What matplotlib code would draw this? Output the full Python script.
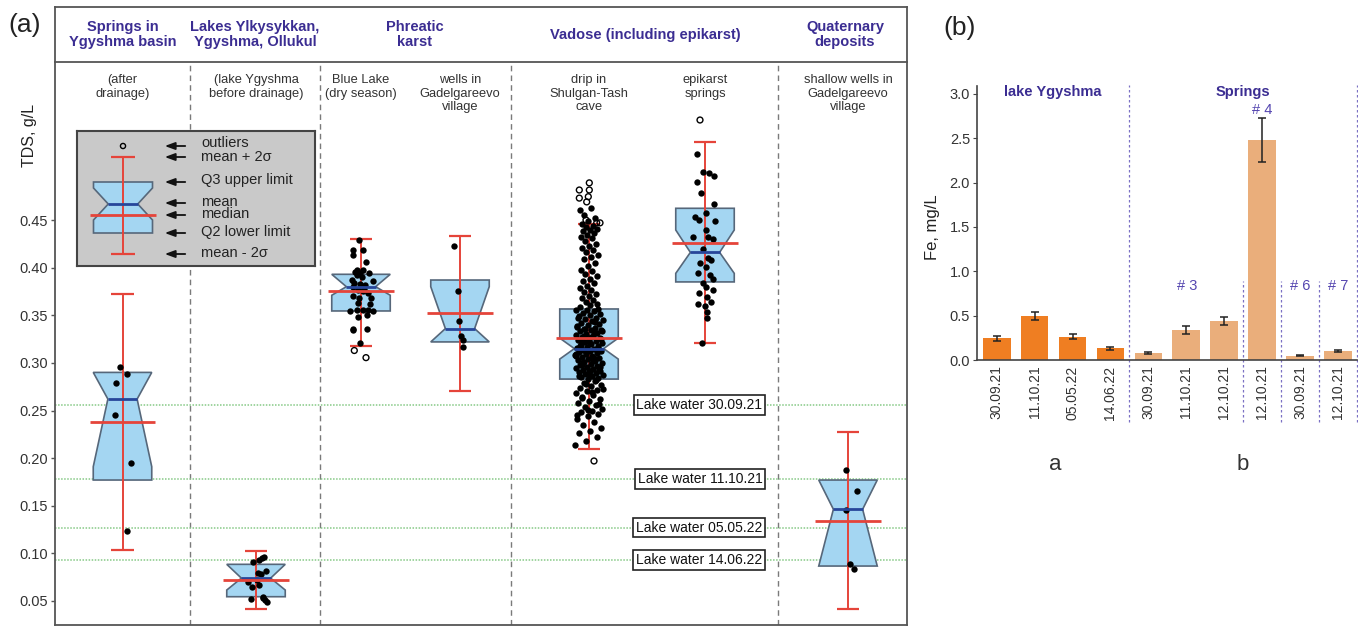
import numpy as np
import matplotlib
matplotlib.use("Agg")
import matplotlib.pyplot as plt
from matplotlib.transforms import blended_transform_factory

plt.rcParams['font.family'] = ['Liberation Sans', 'DejaVu Sans']

# ---------------- Panel (a) data: TDS, g/L ----------------
header_labels = ["Springs in\nYgyshma basin", "Lakes Ylkysykkan,\nYgyshma, Ollukul",
                 "Phreatic\nkarst", "Vadose (including epikarst)", "Quaternary\ndeposits"]
sub_labels = ["(after\ndrainage)", "(lake Ygyshma\nbefore drainage)", "Blue Lake\n(dry season)",
              "wells in\nGadelgareevo\nvillage", "drip in\nShulgan-Tash\ncave",
              "epikarst\nsprings", "shallow wells in\nGadelgareevo\nvillage"]

q1_vals     = [0.177, 0.0545, 0.3545, 0.322, 0.283, 0.385, 0.0867]
q3_vals     = [0.290, 0.0885, 0.393, 0.387, 0.3566, 0.4623, 0.177]
notch_lo    = [0.191, 0.0615, 0.371, 0.322, 0.304, 0.394, 0.0867]
notch_hi    = [0.290, 0.0885, 0.393, 0.380, 0.326, 0.4395, 0.177]
mean_vals   = [0.262, 0.074, 0.380, 0.336, 0.315, 0.416, 0.1463]
median_vals = [0.2376, 0.072, 0.375, 0.352, 0.3264, 0.4255, 0.134]
lo_2sigma   = [0.104, 0.0413, 0.318, 0.271, 0.2096, 0.3205, 0.0413]
hi_2sigma   = [0.372, 0.1028, 0.430, 0.433, 0.4455, 0.5316, 0.227]

springs_pts = [0.296, 0.288, 0.279, 0.245, 0.195, 0.1235]
springs_jit = [-0.025, 0.042, -0.068, -0.075, 0.082, 0.042]

lakes_pts = [0.0913, 0.093, 0.0965, 0.095, 0.0797, 0.0818, 0.0783, 0.065, 0.0668,
             0.0545, 0.0518, 0.051, 0.049, 0.072, 0.053, 0.070]
lakes_jit = [-0.027, 0.03, 0.08, 0.057, 0.023, 0.1, 0.05, -0.043, 0.033,
             0.073, -0.053, 0.09, 0.107, 0.007, 0.067, -0.077]

bluelake_pts = [0.429, 0.419, 0.419, 0.413, 0.406, 0.398, 0.395, 0.394, 0.394, 0.392,
                0.3905, 0.387, 0.386, 0.3835, 0.3825, 0.382, 0.380, 0.377, 0.3755, 0.373,
                0.370, 0.368, 0.368, 0.354, 0.3555, 0.355, 0.3555, 0.354, 0.348, 0.350,
                0.336, 0.334, 0.3355, 0.321, 0.397, 0.378, 0.3625, 0.3618]
bluelake_jit = [-0.017, -0.083, 0.023, -0.077, 0.05, 0.023, -0.06, -0.01, 0.083, -0.043,
                0.007, -0.093, 0.117, -0.067, -0.01, 0.04, -0.083, -0.027, 0.023, 0.073,
                -0.077, -0.02, 0.097, -0.11, -0.043, 0.023, 0.073, 0.117, -0.027, 0.063,
                -0.083, -0.077, 0.057, -0.01, -0.04, 0.03, -0.033, 0.09]
bluelake_out = [0.313, 0.3055]
bluelake_out_jit = [-0.067, 0.05]

wells_pts = [0.423, 0.375, 0.344, 0.328, 0.324, 0.317]
wells_jit = [-0.06, -0.023, -0.007, 0.007, 0.033, 0.027]

drip_pts = [0.460, 0.4625, 0.455, 0.452, 0.449,
            0.446, 0.444, 0.443, 0.441, 0.440, 0.438, 0.436, 0.434, 0.432, 0.431, 0.428,
            0.425, 0.423, 0.421, 0.418, 0.416, 0.413, 0.411, 0.409, 0.405, 0.402,
            0.398, 0.396, 0.393, 0.391, 0.388, 0.386, 0.384, 0.381, 0.379, 0.377, 0.374,
            0.372, 0.370, 0.368, 0.366, 0.364, 0.362, 0.361, 0.359, 0.357,
            0.356, 0.355, 0.354, 0.352, 0.351, 0.350, 0.349, 0.347, 0.346, 0.345, 0.344,
            0.342, 0.341, 0.340, 0.338, 0.337, 0.336, 0.335, 0.334, 0.333, 0.331, 0.330,
            0.329, 0.328, 0.327, 0.326, 0.325, 0.324, 0.323, 0.322, 0.321, 0.320, 0.319,
            0.318, 0.317, 0.316, 0.315, 0.314, 0.313, 0.312, 0.311, 0.310, 0.309, 0.308,
            0.307, 0.306, 0.305, 0.304, 0.303, 0.302, 0.301, 0.300, 0.299, 0.298, 0.297,
            0.296, 0.295, 0.294, 0.293, 0.292, 0.291, 0.290, 0.289, 0.288, 0.287, 0.286,
            0.285, 0.284, 0.283,
            0.339, 0.332, 0.328, 0.325, 0.321, 0.318, 0.314, 0.311, 0.307, 0.303, 0.298,
            0.293, 0.288,
            0.347, 0.343, 0.336, 0.333, 0.327, 0.322, 0.316, 0.312, 0.309, 0.305, 0.301,
            0.296, 0.291, 0.286, 0.282, 0.278, 0.273, 0.269, 0.263, 0.257, 0.251, 0.245,
            0.281, 0.279, 0.277, 0.276, 0.274, 0.272, 0.270, 0.268, 0.266, 0.264, 0.262,
            0.260, 0.258, 0.256, 0.254, 0.252, 0.250, 0.248, 0.246, 0.244, 0.241, 0.238,
            0.235, 0.232, 0.229, 0.226, 0.222, 0.218, 0.214]
drip_out = [0.4815, 0.489, 0.4815, 0.473, 0.4745, 0.469, 0.450, 0.447, 0.447, 0.197]
drip_out_jit = [-0.097, 0.003, 0.003, -0.097, -0.007, -0.023, -0.03, 0.077, 0.11, 0.05]

epikarst_pts = [0.5193, 0.5007, 0.499, 0.496, 0.490, 0.478, 0.467, 0.4535, 0.457, 0.450,
                0.449, 0.4395, 0.432, 0.432, 0.430, 0.420, 0.410, 0.408, 0.4045, 0.401,
                0.394, 0.392, 0.388, 0.384, 0.380, 0.3765, 0.373, 0.3695, 0.364, 0.362,
                0.360, 0.3537, 0.347, 0.321]
epikarst_jit = [-0.083, -0.017, 0.043, 0.09, -0.077, -0.043, 0.09, -0.1, 0.01, -0.057,
                0.1, 0.01, -0.117, 0.033, 0.083, -0.023, 0.033, 0.057, -0.05, 0.01,
                -0.067, 0.05, 0.083, -0.023, 0.01, 0.083, -0.057, 0.023, 0.057, -0.067,
                0.0, 0.017, 0.023, -0.027]
epikarst_out = [0.555]
epikarst_out_jit = [-0.05]

shallow_pts = [0.188, 0.1655, 0.1455, 0.0885, 0.0833]
shallow_jit = [-0.02, 0.093, -0.023, 0.02, 0.063]

lake_water_labels = ["Lake water 30.09.21", "Lake water 11.10.21",
                     "Lake water 05.05.22", "Lake water 14.06.22"]
lake_water_tds = [0.2558, 0.1778, 0.127, 0.093]

tds_ticks = [0.05, 0.10, 0.15, 0.20, 0.25, 0.30, 0.35, 0.40, 0.45]

# ---------------- Panel (b) data: Fe, mg/L ----------------
fe_dates = ["30.09.21", "11.10.21", "05.05.22", "14.06.22", "30.09.21",
            "11.10.21", "12.10.21", "12.10.21", "30.09.21", "12.10.21"]
fe_values = [0.245, 0.496, 0.263, 0.132, 0.075, 0.338, 0.44, 2.48, 0.05, 0.10]
fe_err = [0.027, 0.05, 0.03, 0.015, 0.01, 0.04, 0.05, 0.25, 0.008, 0.012]
fe_source = ["lake"] * 4 + ["spring"] * 6
fe_ticks = [0.0, 0.5, 1.0, 1.5, 2.0, 2.5, 3.0]

# ---------------- layout / style ----------------
box_pos = [0.675, 2.01, 3.06, 4.05, 5.34, 6.50, 7.93]
header_pos = [0.675, 2.0, 3.6, 5.9, 7.9]
dividers = [1.35, 2.65, 4.56, 7.23]
BOX_W = 0.585
BOX_FC = "#a4d6f2"
BOX_EC = "#56677a"
RED = "#e5443a"
BLUE = "#27469a"
HEAD_C = "#3b2d92"
TXT_C = "#333333"
FRAME_C = "#555555"

fig = plt.figure(figsize=(13.58, 6.29), dpi=100)

ax = fig.add_axes([55 / 1358, 1 - 625 / 629, 852 / 1358, 563 / 629])
axh = fig.add_axes([55 / 1358, 1 - 62 / 629, 852 / 1358, 55 / 629])
ax.set_xlim(0, 8.52)
ax.set_ylim(0.0248, 0.6159)
axh.set_xlim(0, 8.52)
axh.set_ylim(0, 1)
axh.set_xticks([])
axh.set_yticks([])
for a in (ax, axh):
    for s in a.spines.values():
        s.set_color(FRAME_C)
        s.set_linewidth(1.3)
ax.spines['top'].set_visible(False)

for x, t in zip(header_pos, header_labels):
    axh.text(x, 0.5, t, ha='center', va='center', fontsize=10.5, fontweight='bold',
             color=HEAD_C, linespacing=1.05)

trans = blended_transform_factory(ax.transData, ax.transAxes)
for x, t in zip(box_pos, sub_labels):
    ax.text(x, 0.978, t, transform=trans, ha='center', va='top', fontsize=9.3,
            color=TXT_C, linespacing=1.15)

for d in dividers:
    ax.axvline(d, color="#7a7a7a", lw=1.0, ls=(0, (4, 3)), zorder=1)

for v in lake_water_tds:
    ax.axhline(v, color="#86c986", lw=1.1, ls=(0, (1, 1)), zorder=1)
for lab, v in zip(lake_water_labels, lake_water_tds):
    ax.text(7.075, v, lab, ha='right', va='center', fontsize=10, color='#111',
            zorder=8, bbox=dict(boxstyle='square,pad=0.2', fc='white', ec='#222', lw=1.2))


def draw_box(a, x, w, q1, q3, clo, chi, mean, med, lo, hi, pts=None, jit=None,
             outs=None, out_jit=None, ms=21):
    h = w / 2
    xs = [x - h, x + h, x + h, x + h / 2, x + h, x + h, x - h, x - h, x - h / 2, x - h]
    ys = [q1, q1, clo, mean, chi, q3, q3, chi, mean, clo]
    a.fill(xs, ys, fc=BOX_FC, ec=BOX_EC, lw=1.2, zorder=2)
    a.vlines(x, lo, hi, color=RED, lw=1.4, zorder=3)
    cw = 0.39 * w
    a.hlines([lo, hi], x - cw / 2, x + cw / 2, color=RED, lw=1.6, zorder=3)
    if pts is not None:
        a.scatter(np.asarray(jit) + x, pts, s=ms, color='black', lw=0, zorder=4)
    if outs is not None:
        a.scatter(np.asarray(out_jit) + x, outs, s=ms * 0.85, facecolors='none',
                  edgecolors='black', lw=1.0, zorder=4)
    a.hlines(mean, x - h / 2, x + h / 2, color=BLUE, lw=2.0, zorder=5)
    a.hlines(med, x - 0.56 * w, x + 0.56 * w, color=RED, lw=2.0, zorder=6)


# deterministic horizontal spread for the dense drip-water cloud
drip_arr = np.asarray(drip_pts)
frac = (np.arange(len(drip_arr)) * 0.6180339887) % 1.0
amp = np.where(drip_arr > 0.36, 0.09, 0.14)
drip_jit = (frac - 0.5) * 2 * amp

pts_list = [springs_pts, lakes_pts, bluelake_pts, wells_pts, drip_pts, epikarst_pts, shallow_pts]
jit_list = [springs_jit, lakes_jit, bluelake_jit, wells_jit, drip_jit, epikarst_jit, shallow_jit]
out_list = [None, None, bluelake_out, None, drip_out, epikarst_out, None]
outj_list = [None, None, bluelake_out_jit, None, drip_out_jit, epikarst_out_jit, None]

for i in range(len(box_pos)):
    draw_box(ax, box_pos[i], BOX_W, q1_vals[i], q3_vals[i], notch_lo[i], notch_hi[i],
             mean_vals[i], median_vals[i], lo_2sigma[i], hi_2sigma[i],
             pts_list[i], jit_list[i], out_list[i], outj_list[i])

ax.set_xticks([])
ax.set_yticks(tds_ticks)
ax.set_yticklabels([f"{t:.2f}" for t in tds_ticks])
ax.tick_params(axis='y', length=3, width=1, color=FRAME_C, labelsize=10.5,
               labelcolor=TXT_C, pad=2)

fig.text(0.022, 1 - 135 / 629, "TDS, g/L", rotation=90, ha='center', va='center',
         fontsize=11.5, color='#222')
fig.text(0.006, 1 - 25 / 629, "(a)", ha='left', va='center', fontsize=19, color='#222')

# ---- legend inset ----
axl = fig.add_axes([77 / 1358, 1 - 266 / 629, 238 / 1358, 135 / 629])
axl.set_xlim(0, 238)
axl.set_ylim(135, 0)
axl.set_xticks([])
axl.set_yticks([])
axl.set_facecolor("#c9c9c9")
for s in axl.spines.values():
    s.set_color("#444")
    s.set_linewidth(1.5)
leg_box = dict(x=46, w=59, q1=102, q3=51, clo=89, chi=57, mean=73, med=84, lo=123, hi=26)
leg_out = [15]
draw_box(axl, leg_box['x'], leg_box['w'], leg_box['q1'], leg_box['q3'], leg_box['clo'],
         leg_box['chi'], leg_box['mean'], leg_box['med'], leg_box['lo'], leg_box['hi'],
         outs=leg_out, out_jit=[0], ms=16)
leg_texts = ["outliers", "mean + 2\u03c3", "Q3 upper limit", "mean", "median",
             "Q2 lower limit", "mean - 2\u03c3"]
leg_text_y = [12, 26, 49, 71, 83, 101, 122]
leg_arrow_y = [15, 26, 51, 72, 84, 102, 123]
for t, ty, ay in zip(leg_texts, leg_text_y, leg_arrow_y):
    axl.annotate("", xy=(85, ay), xytext=(111, ay),
                 arrowprops=dict(arrowstyle='-|>,head_length=0.6,head_width=0.22',
                                 color='#111', lw=1.3))
    axl.text(124, ty, t, ha='left', va='center', fontsize=10.5, color='#222')

# ---------------- Panel (b) ----------------
axb = fig.add_axes([977 / 1358, 1 - 360 / 629, 380 / 1358, 274 / 629])
xb = np.arange(len(fe_values))
colors = ["#ef7e22" if s == "lake" else "#eaae7b" for s in fe_source]
axb.bar(xb, fe_values, width=0.73, color=colors, yerr=fe_err, capsize=3,
        error_kw=dict(elinewidth=1.1, capthick=1.1, ecolor='#222'), zorder=2)
axb.set_xlim(-0.52, 9.5)
axb.set_ylim(0, 3.09)
axb.set_yticks(fe_ticks)
axb.set_yticklabels([f"{t:.1f}" for t in fe_ticks])
axb.set_xticks(xb)
axb.set_xticklabels(fe_dates, rotation=90)
axb.tick_params(axis='y', length=3, color='#444', labelsize=10.5, labelcolor=TXT_C, pad=2)
axb.tick_params(axis='x', length=0, labelsize=10, labelcolor=TXT_C, pad=4)
for s in ['top', 'right']:
    axb.spines[s].set_visible(False)
for s in ['left', 'bottom']:
    axb.spines[s].set_color('#444')
    axb.spines[s].set_linewidth(1.2)

DIV_C = "#7b70c4"
for xd, top in [(3.5, 1.004), (6.5, 0.288), (7.5, 0.288), (8.5, 0.288), (9.5, 1.004)]:
    axb.axvline(xd, ymin=-0.226, ymax=top, color=DIV_C, lw=0.9, ls=(0, (2, 2)),
                clip_on=False, zorder=1)

axb.text(1.49, 3.02, "lake Ygyshma", ha='center', va='center', fontsize=10.5,
         fontweight='bold', color=HEAD_C)
axb.text(6.5, 3.02, "Springs", ha='center', va='center', fontsize=10.5,
         fontweight='bold', color=HEAD_C)
for xs_, ys_, t in [(7, 2.82, "# 4"), (5.02, 0.83, "# 3"), (8, 0.83, "# 6"), (9, 0.83, "# 7")]:
    axb.text(xs_, ys_, t, ha='center', va='center', fontsize=10.5, color="#5546b0")

fig.text(932 / 1358, 1 - 227 / 629, "Fe, mg/L", rotation=90, ha='center', va='center',
         fontsize=12, color='#222')
fig.text(1055 / 1358, 1 - 465 / 629, "a", ha='center', va='center', fontsize=16, color='#333')
fig.text(1243 / 1358, 1 - 465 / 629, "b", ha='center', va='center', fontsize=16, color='#333')
fig.text(943 / 1358, 1 - 28 / 629, "(b)", ha='left', va='center', fontsize=19, color='#222')

fig.savefig("out.png", dpi=100)
